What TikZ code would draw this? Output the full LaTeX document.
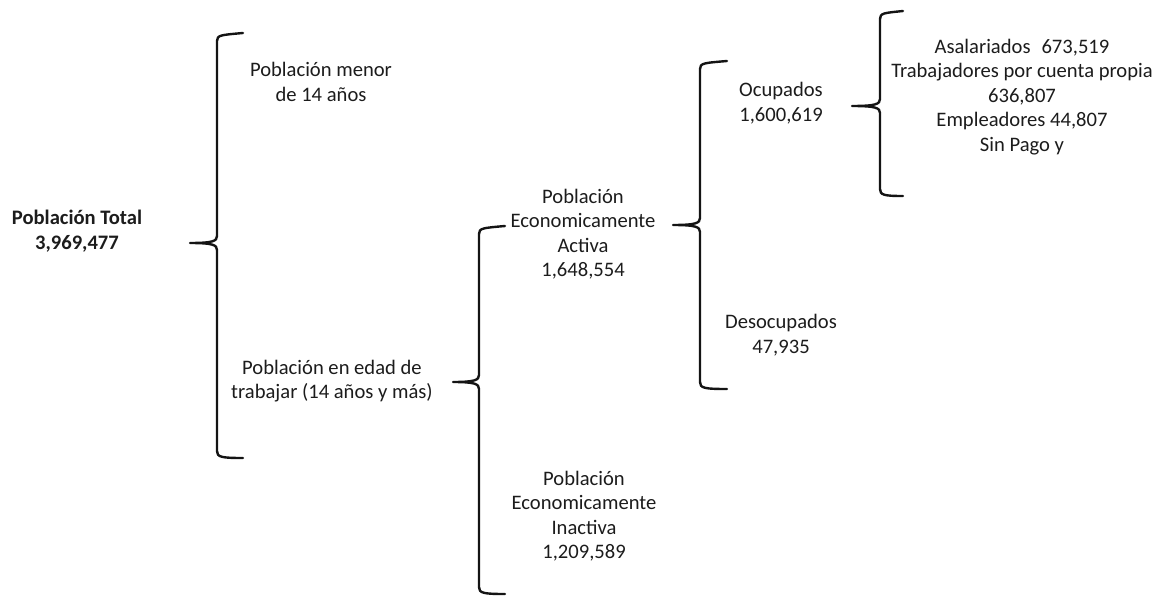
\documentclass[tikz,border=0pt]{standalone}
\usepackage{fontspec}
\setmainfont{Carlito}
\definecolor{txt}{RGB}{28,28,28}
\definecolor{ink}{RGB}{20,20,20}
\tikzset{
  lbl/.style={align=center, text=txt, inner sep=0pt, font=\fontsize{20.6}{24.5}\selectfont},
  bracestroke/.style={draw=ink, line width=2.4pt, line cap=round, line join=round}
}
\begin{document}
\begin{tikzpicture}[x=1pt, y=-1pt]
\useasboundingbox (0,0) rectangle (1159,596);
% text nodes
\node[lbl, font=\fontsize{20.6}{24.5}\selectfont\bfseries] (total) at (77,231) {Población Total\\3,969,477};
\node[lbl] (menor) at (321,82) {Población menor\\de 14 años};
\node[lbl] (edad) at (332,381) {Población en edad de\\trabajar (14 años y más)};
\node[lbl] (pea) at (583,234) {Población\\Economicamente\\Activa\\1,648,554};
\node[lbl] (pei) at (584,516) {Población\\Economicamente\\Inactiva\\1,209,589};
\node[lbl] (ocup) at (781,103) {Ocupados\\1,600,619};
\node[lbl] (desoc) at (781,335) {Desocupados\\47,935};
\node[lbl] (det) at (1022,97) {Asalariados\hspace{11pt}673,519\\Trabajadores por cuenta propia\\636,807\\Empleadores 44,807\\Sin Pago y};
% braces: tip x, vertical x, hook x, top, mid, bottom
\foreach \L/\X/\H/\T/\M/\B [count=\i] in {
  190/217/243/35/243/457,
  453/479/505/228/382/593,
  673/700/727/63/225/388,
  852/880/903/13/106/195}{
  \coordinate (tip\i) at (\L,\M);
  \draw[bracestroke] (\H,\T-2) .. controls (\X+4,\T) and (\X,\T) .. (\X,\T+6)
     -- (\X,\M-7) .. controls (\X,\M-2) and (\X-4,\M) .. (tip\i)
     .. controls (\X-4,\M) and (\X,\M+2) .. (\X,\M+7)
     -- (\X,\B-6) .. controls (\X,\B) and (\X+4,\B+1) .. (\H,\B+1);
}
\end{tikzpicture}
\end{document}
